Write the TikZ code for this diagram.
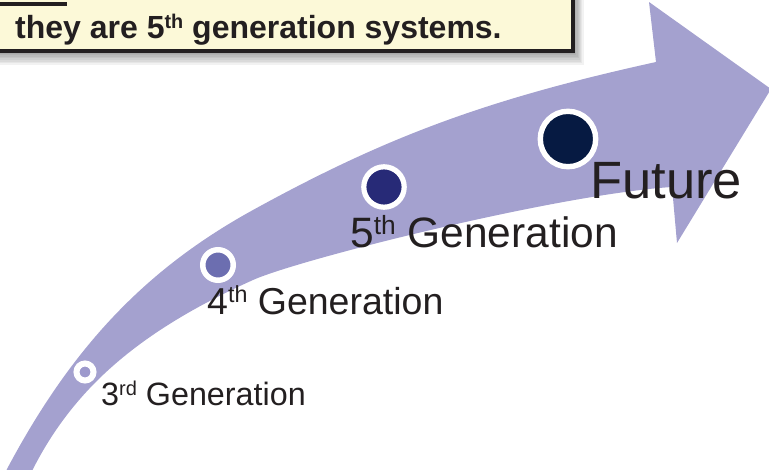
\documentclass[tikz,border=0pt]{standalone}
\usepackage{fontspec}
\setmainfont{Liberation Sans}
\usepackage{graphicx}
\definecolor{bandc}{RGB}{164,161,207}
\definecolor{notec}{RGB}{252,249,216}
\definecolor{txtc}{RGB}{35,31,32}
\definecolor{gthree}{RGB}{157,153,204}
\definecolor{gfour}{RGB}{108,110,176}
\definecolor{gfive}{RGB}{39,42,119}
\definecolor{gfut}{RGB}{6,26,66}
\newcommand\sups[1]{\raisebox{0.3em}{\scalebox{0.62}{#1}}}
\tikzset{
  dot/.style={circle, draw=white, inner sep=0pt},
  lbl/.style={anchor=base west, inner sep=0pt, text=txtc},
}
\begin{document}
\begin{tikzpicture}[x=1pt,y=-1pt]
\useasboundingbox (0,0) rectangle (769,469);
\begin{scope}
\clip (0,0) rectangle (769,469);
% band arrow
\fill[bandc] (1,481) -- (7,469)
  .. controls (72,346.7) and (145.8,269) .. (253,210)
  .. controls (387.6,135.9) and (488.4,98.9) .. (656,62)
  -- (649,2) -- (771,89) -- (677,243) -- (672,187)
  .. controls (560,194) and (300,259) .. (253,280)
  .. controls (140.7,330.5) and (74.7,387.2) .. (33,469)
  -- (27,481) -- cycle;
% note box shadow
\foreach \i in {1,...,8}
  \fill[black, opacity=0.05] (-10,-10) rectangle (574+1.2*\i, 52+1.6*\i);
% note box
\draw[line width=3.5pt, fill=notec, draw=txtc] (-10,-10) rectangle (573,51);
\draw[line width=4pt, txtc] (0,4) -- (67,4);
\node[lbl, font=\bfseries\fontsize{32}{38}\selectfont] (note) at (15,38) {they are 5\sups{th} generation systems.};
% generation dots
\node[dot, fill=gthree, line width=6pt, minimum size=17pt] (g3) at (85,372) {};
\node[dot, fill=gfour, line width=5.5pt, minimum size=30.5pt] (g4) at (218,265) {};
\node[dot, fill=gfive, line width=5.2pt, minimum size=40.4pt] (g5) at (384,187) {};
\node[dot, fill=gfut, line width=5.4pt, minimum size=55.4pt] (gf) at (568,139) {};
% labels
\node[lbl, font=\fontsize{32.3}{39}\selectfont] (l3) at (101,405) {3\sups{rd} Generation};
\node[lbl, font=\fontsize{37.5}{45}\selectfont] (l4) at (207,314) {4\sups{th} Generation};
\node[lbl, font=\fontsize{42.5}{51}\selectfont] (l5) at (350,247) {5\sups{th} Generation};
\node[lbl, font=\fontsize{52.5}{63}\selectfont] (lf) at (590,198) {Future};
\end{scope}
\end{tikzpicture}
\end{document}
